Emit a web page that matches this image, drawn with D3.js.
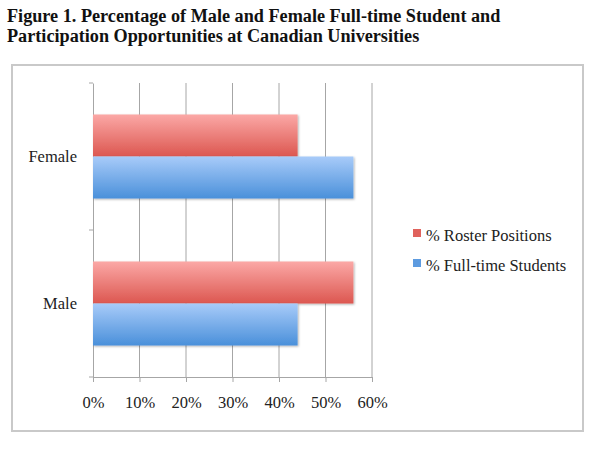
<!DOCTYPE html>
<html>
<head>
<meta charset="utf-8">
<script src="https://cdn.jsdelivr.net/npm/d3@7"></script>
<style>
  body { margin: 0; background: #fff; }
  svg { display: block; }
</style>
</head>
<body>
<script>
// data
var categories = ["Female", "Male"];
var seriesNames = ["% Roster Positions", "% Full-time Students"];
var rosterValues = [0.44, 0.56];
var studentValues = [0.56, 0.44];
var xTicks = [0, 0.1, 0.2, 0.3, 0.4, 0.5, 0.6];
var titleLines = ["Figure 1. Percentage of Male and Female Full-time Student and",
                  "Participation Opportunities at Canadian Universities"];

var w = 600, h = 450;
var seriesKeys = ["roster", "students"];
var seriesValues = { roster: rosterValues, students: studentValues };

var svg = d3.select("body").append("svg")
    .attr("width", w)
    .attr("height", h);

var defs = svg.append("defs");
var redGrad = defs.append("linearGradient").attr("id", "gRed")
    .attr("x1", 0).attr("y1", 0).attr("x2", 0).attr("y2", 1);
redGrad.append("stop").attr("offset", "0%").attr("stop-color", "#fba8a6");
redGrad.append("stop").attr("offset", "100%").attr("stop-color", "#dc5750");
var blueGrad = defs.append("linearGradient").attr("id", "gBlue")
    .attr("x1", 0).attr("y1", 0).attr("x2", 0).attr("y2", 1);
blueGrad.append("stop").attr("offset", "0%").attr("stop-color", "#a8cbf9");
blueGrad.append("stop").attr("offset", "100%").attr("stop-color", "#4a90da");
var shadow = defs.append("filter").attr("id", "shadow")
    .attr("x", "-5%").attr("y", "-10%").attr("width", "115%").attr("height", "130%");
shadow.append("feDropShadow").attr("dx", 1).attr("dy", 1)
    .attr("stdDeviation", 1).attr("flood-color", "#000").attr("flood-opacity", 0.3);

var fills = { roster: "url(#gRed)", students: "url(#gBlue)" };
var legendFills = { roster: "#e0625c", students: "#5d9be0" };

// title
svg.append("g").selectAll("text")
    .data(titleLines)
    .enter()
    .append("text")
    .attr("x", 7)
    .attr("y", function(d, i) { return 22 + i * 20; })
    .style("font-family", "'Liberation Serif', 'Times New Roman', serif")
    .style("font-weight", "bold")
    .style("font-size", "18.2px")
    .attr("fill", "#111")
    .text(function(d) { return d; });

// frame
svg.append("rect")
    .attr("x", 12).attr("y", 65)
    .attr("width", 571).attr("height", 366)
    .attr("fill", "none")
    .attr("stroke", "#c9c9c9")
    .attr("stroke-width", 2);

var xScale = d3.scaleLinear()
    .domain([0, 0.6])
    .range([93, 372]);

var yScale = d3.scaleBand()
    .domain(categories)
    .range([83, 377])
    .paddingInner(0)
    .paddingOuter(0);

var ySub = d3.scaleBand()
    .domain(seriesKeys)
    .range([0, yScale.bandwidth()])
    .paddingInner(0)
    .paddingOuter(0.75);

var font = "'Liberation Serif', Cambria, serif";
var fontSize = "16.5px";
var gridColor = "#a6a6a6";

// gridlines
svg.append("g").selectAll("line")
    .data(xTicks.slice(1))
    .enter()
    .append("line")
    .attr("x1", function(d) { return xScale(d); })
    .attr("x2", function(d) { return xScale(d); })
    .attr("y1", 83)
    .attr("y2", 377)
    .attr("stroke", gridColor)
    .attr("stroke-width", 1);

// x axis
var xAxis = d3.axisBottom()
    .scale(xScale)
    .tickValues(xTicks)
    .tickFormat(d3.format(".0%"))
    .tickSizeInner(5)
    .tickSizeOuter(0)
    .tickPadding(14);

var gx = svg.append("g")
    .attr("transform", "translate(0,377)")
    .call(xAxis);
gx.select(".domain").attr("stroke", gridColor);
gx.selectAll(".tick line").attr("stroke", gridColor);
gx.selectAll(".tick text")
    .style("font-family", font)
    .style("font-size", fontSize)
    .attr("fill", "#222");

// y axis
var yAxis = d3.axisLeft()
    .scale(yScale)
    .tickSize(0)
    .tickPadding(16);

var gy = svg.append("g")
    .attr("transform", "translate(93,0)")
    .call(yAxis);
gy.select(".domain").attr("stroke", gridColor);
gy.selectAll(".tick text")
    .style("font-family", font)
    .style("font-size", fontSize)
    .attr("fill", "#222");

// y boundary ticks
var yEdges = [83].concat(categories.map(function(c) { return yScale(c) + yScale.bandwidth(); }));
gy.selectAll("line.edge")
    .data(yEdges)
    .enter()
    .append("line")
    .attr("class", "edge")
    .attr("x1", -4).attr("x2", 0)
    .attr("y1", function(d) { return d; })
    .attr("y2", function(d) { return d; })
    .attr("stroke", gridColor);

// bars
var groups = svg.append("g").selectAll("g")
    .data(categories)
    .enter()
    .append("g")
    .attr("transform", function(c) { return "translate(0," + yScale(c) + ")"; });

groups.selectAll("rect")
    .data(function(c, i) {
        return seriesKeys.map(function(k) { return { key: k, value: seriesValues[k][i] }; });
    })
    .enter()
    .append("rect")
    .attr("x", xScale(0))
    .attr("y", function(d) { return ySub(d.key); })
    .attr("width", function(d) { return xScale(d.value) - xScale(0); })
    .attr("height", ySub.bandwidth())
    .attr("fill", function(d) { return fills[d.key]; })
    .attr("filter", "url(#shadow)");

// legend
var legend = svg.append("g").selectAll("g")
    .data(seriesKeys)
    .enter()
    .append("g")
    .attr("transform", function(d, i) { return "translate(413," + (229 + i * 30) + ")"; });

legend.append("rect")
    .attr("width", 8).attr("height", 8)
    .attr("fill", function(d) { return legendFills[d]; });

legend.append("text")
    .attr("x", 13)
    .attr("y", 12)
    .style("font-family", font)
    .style("font-size", fontSize)
    .attr("fill", "#222")
    .text(function(d, i) { return seriesNames[i]; });
</script>
</body>
</html>
